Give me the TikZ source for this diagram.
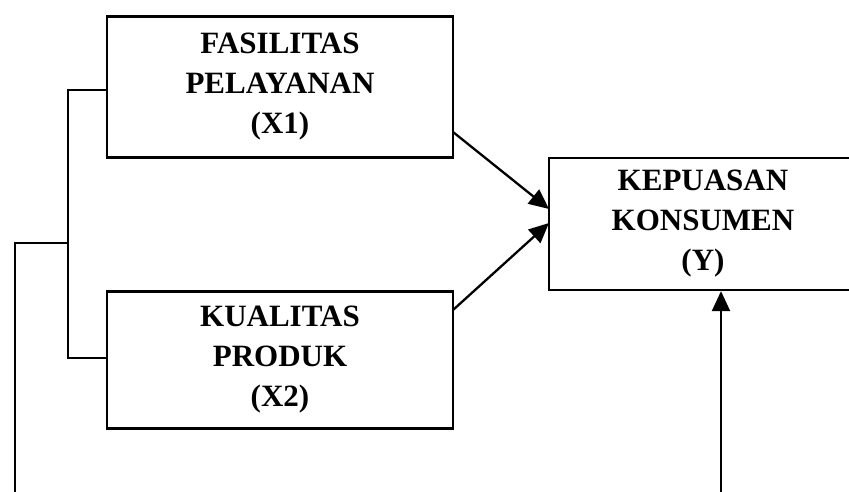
\documentclass[tikz,border=0pt]{standalone}
\usepackage{fontspec}
\setmainfont{Liberation Serif}
\usetikzlibrary{arrows.meta}
\begin{document}
\begin{tikzpicture}[x=1pt,y=-1pt,
  box/.style={draw,line width=2.3pt,inner sep=0pt,align=center,
    font=\fontsize{31}{40}\selectfont\bfseries},
  conn/.style={line width=2.3pt},
  arr/.style={conn,-{Triangle[length=20pt,width=18pt]}}]
\useasboundingbox (0,0) rectangle (849,492);
% variable boxes
\node[box,minimum width=346pt,minimum height=141pt] (b1) at (280,87)
  {FASILITAS\\PELAYANAN\\(X1)};
\node[box,minimum width=346pt,minimum height=137pt] (b2) at (280,360)
  {KUALITAS\\PRODUK\\(X2)};
\node[box,minimum width=308pt,minimum height=132pt] (b3) at (703,224)
  {KEPUASAN\\KONSUMEN\\(Y)};
% helper points
\coordinate (jt) at (68,90);
\coordinate (jb) at (68,358);
\coordinate (jm) at (68,243);
\coordinate (lc) at (15,243);
\coordinate (lb) at (15,500);
\coordinate (rb) at (721,500);
\coordinate (a1s) at (453,132);
\coordinate (a1e) at (549,209);
\coordinate (a2s) at (453,310);
\coordinate (a2e) at (549,223);
% bracket joining the two independent variables
\draw[conn] (b1.west |- jt) -- (jt) -- (jb) -- (b2.west |- jb);
\draw[conn] (jm) -- (lc) -- (lb);
% influences on the dependent variable
\draw[arr] (a1s) -- (a1e);
\draw[arr] (a2s) -- (a2e);
\draw[arr] (rb) -- (rb |- b3.south);
\end{tikzpicture}
\end{document}
